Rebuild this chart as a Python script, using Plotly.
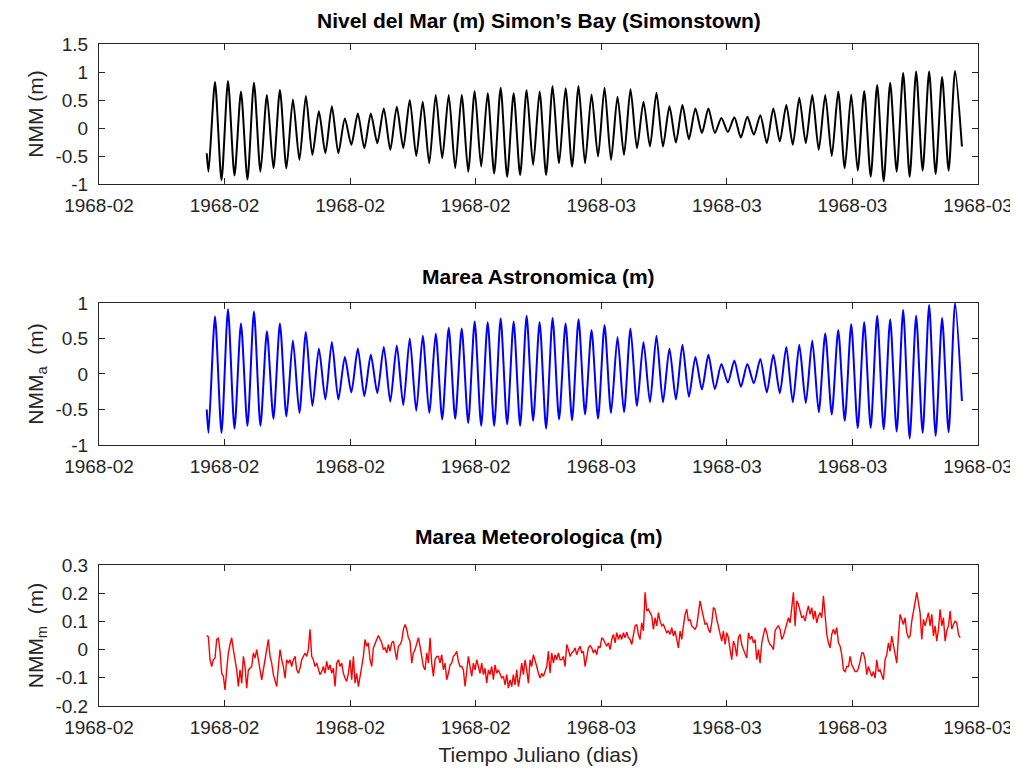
import numpy as np
import pandas as pd
import plotly.graph_objects as go

# ---------------- data ----------------
origin = pd.Timestamp("1968-02-10")
x_range = ["1968-02-10", "1968-03-16"]

# Sea level (m): successive high waters and the low water preceding each
nivel_high = [0.82, 0.84, 0.65, 0.81, 0.59, 0.68, 0.51, 0.57, 0.30, 0.39,
              0.17, 0.26, 0.26, 0.35, 0.38, 0.50, 0.47, 0.59, 0.59, 0.59,
              0.66, 0.62, 0.72, 0.62, 0.68, 0.65, 0.75, 0.71, 0.75, 0.60,
              0.72, 0.56, 0.69, 0.47, 0.63,
              0.39, 0.41, 0.35, 0.35, 0.18, 0.19, 0.20, 0.23, 0.35, 0.41,
              0.54, 0.59, 0.59, 0.65, 0.60, 0.66, 0.77, 0.81, 0.98, 1.01,
              1.01, 0.91, 1.02]
nivel_low = [-0.78, -0.93, -0.85, -0.92, -0.78, -0.72, -0.72, -0.57, -0.48, -0.45,
             -0.45, -0.30, -0.36, -0.27, -0.39, -0.36, -0.50, -0.63, -0.54, -0.72,
             -0.78, -0.69, -0.81, -0.87, -0.84, -0.66, -0.84, -0.63, -0.69, -0.63,
             -0.51, -0.57, -0.48, -0.36, -0.33,
             -0.33, -0.26, -0.20, -0.09, -0.09, -0.07, -0.17, -0.12, -0.27, -0.24,
             -0.30, -0.27, -0.39, -0.50, -0.72, -0.76, -0.87, -0.95, -0.78, -0.87,
             -0.76, -0.82, -0.76]
nivel_first, nivel_last = -0.45, -0.33

# Astronomical tide (m)
astro_high = [0.81, 0.91, 0.71, 0.88, 0.60, 0.71, 0.47, 0.59, 0.36, 0.45,
              0.24, 0.36, 0.27, 0.38, 0.40, 0.50, 0.54, 0.57, 0.65, 0.64,
              0.74, 0.73, 0.78, 0.74, 0.82, 0.73, 0.79, 0.71, 0.77, 0.62,
              0.69, 0.52, 0.64, 0.45, 0.54,
              0.36, 0.41, 0.24, 0.27, 0.14, 0.19, 0.14, 0.21, 0.27, 0.38,
              0.41, 0.47, 0.57, 0.62, 0.70, 0.73, 0.82, 0.77, 0.90, 0.82,
              0.97, 0.79, 1.00]
astro_low = [-0.83, -0.83, -0.77, -0.73, -0.73, -0.63, -0.60, -0.55, -0.45, -0.36,
             -0.36, -0.26, -0.31, -0.27, -0.39, -0.44, -0.52, -0.55, -0.64, -0.63,
             -0.69, -0.73, -0.73, -0.71, -0.73, -0.66, -0.77, -0.64, -0.65, -0.57,
             -0.63, -0.55, -0.54, -0.45, -0.40,
             -0.40, -0.36, -0.32, -0.22, -0.21, -0.12, -0.18, -0.13, -0.26, -0.27,
             -0.40, -0.41, -0.54, -0.57, -0.66, -0.76, -0.76, -0.78, -0.81, -0.91,
             -0.83, -0.87, -0.82]
astro_first, astro_last = -0.50, -0.38

# Meteorological tide (m), sampled about every 1.6 h
met_part1 = [0.050, 0.045, -0.036, -0.060, -0.036, -0.030, 0.036, 0.042, -0.006, -0.084,
             -0.095, -0.143, -0.072, -0.012, 0.018, 0.042, 0.000, -0.036, -0.072, -0.131,
             -0.072, -0.119, -0.024, -0.060, -0.137, -0.072, -0.066, -0.060, -0.012, -0.030,
             0.000, -0.042, -0.072, -0.107, -0.072, -0.036, -0.012, 0.036, -0.024, -0.048,
             -0.089, -0.107, -0.131, -0.060, 0.000, -0.036, -0.060, -0.101, -0.036, -0.048,
             -0.036, -0.060, -0.036, -0.024, -0.072, -0.084, -0.066, -0.036, -0.024, -0.012,
             -0.024, 0.000, 0.072, -0.024, -0.036, -0.060, -0.048, -0.066, -0.089, -0.078,
             -0.060, -0.084, -0.042, -0.072, -0.054, -0.084, -0.066, -0.131, -0.048, -0.036,
             -0.060, -0.048, -0.084, -0.101, -0.113, -0.084, -0.036, -0.107, -0.024, -0.119,
             -0.084, -0.131, -0.101, -0.060, -0.024, 0.036, 0.012, 0.024, -0.036, -0.060,
             0.006, 0.024, 0.036, 0.050, 0.036, 0.024, 0.000, 0.006, -0.012, 0.018,
             -0.006, 0.024, 0.030, -0.006, -0.036, 0.012, 0.018, 0.030, 0.072, 0.089,
             0.072, 0.042, 0.030, -0.048, -0.012, 0.000, 0.018, 0.042, 0.012, -0.024,
             -0.060, -0.072, -0.012, -0.048, 0.042, -0.048, -0.095, -0.036, -0.024, -0.024,
             -0.048, -0.018, -0.072, -0.048, -0.107, -0.084, -0.054, -0.048, -0.024, -0.018,
             -0.006, -0.042, -0.060]
met_part2 = [-0.060, -0.072, -0.131, -0.084, -0.024, -0.060, -0.095, -0.048, -0.072, -0.036,
             -0.060, -0.084, -0.048, -0.089, -0.066, -0.119, -0.072, -0.089, -0.060, -0.107,
             -0.054, -0.084, -0.072, -0.089, -0.101, -0.095, -0.125, -0.089, -0.137, -0.107,
             -0.131, -0.089, -0.125, -0.072, -0.131, -0.095, -0.048, -0.089, -0.036, -0.072,
             -0.119, -0.036, -0.060, -0.018, -0.036, -0.060, -0.084, -0.101, -0.084, -0.095,
             -0.078, -0.060, -0.006, -0.084, -0.012, -0.048, -0.018, -0.036, -0.012, -0.036,
             -0.036, -0.024, -0.060, 0.018, 0.000, -0.024, -0.012, -0.006, 0.006, -0.018,
             0.000, 0.012, -0.012, -0.006, -0.060, -0.024, 0.006, 0.014, 0.006, -0.012,
             0.000, -0.018, 0.012, 0.006, 0.042, 0.036, 0.024, 0.012, 0.024, 0.000,
             0.036, 0.054, 0.024, 0.060, 0.036, 0.054, 0.036, 0.060, 0.042, 0.062,
             0.042, 0.036, 0.018, 0.054, 0.084, 0.089, 0.054, 0.036, 0.095, 0.066,
             0.203, 0.137, 0.143, 0.131, 0.119, 0.072, 0.113, 0.084, 0.131, 0.101,
             0.084, 0.089, 0.072, 0.060, 0.066, 0.054, 0.078, 0.048, 0.066, 0.036,
             0.006, 0.066, 0.036, 0.084, 0.125, 0.143, 0.101, 0.107, 0.084, 0.078,
             0.072, 0.084, 0.125, 0.173, 0.143, 0.119, 0.089, 0.095, 0.072, 0.060,
             0.095, 0.149, 0.143]
met_part3 = [0.107, 0.084, 0.060, 0.030, 0.066, 0.018, 0.060, 0.042, 0.000, -0.036,
             0.030, 0.012, -0.024, 0.042, 0.054, 0.018, 0.000, -0.018, -0.030, 0.060,
             0.036, 0.048, 0.024, 0.036, -0.036, 0.000, -0.048, 0.024, 0.048, 0.078,
             0.060, 0.030, 0.018, 0.012, 0.000, 0.066, 0.078, 0.084, 0.072, 0.036,
             0.048, 0.072, 0.089, 0.113, 0.095, 0.161, 0.203, 0.084, 0.173, 0.161,
             0.137, 0.113, 0.119, 0.101, 0.131, 0.155, 0.125, 0.149, 0.107, 0.137,
             0.095, 0.119, 0.131, 0.113, 0.191, 0.119, 0.054, 0.024, 0.006, 0.054,
             0.072, 0.054, 0.078, 0.024, 0.012, -0.018, -0.072, -0.078, -0.060, -0.060,
             -0.024, -0.054, -0.066, -0.078, -0.078, -0.066, -0.042, -0.012, -0.012, -0.036,
             -0.089, -0.060, -0.078, -0.095, -0.078, -0.101, -0.036, -0.078, -0.072, -0.089,
             -0.107, -0.036, -0.018, 0.024, -0.006, 0.048, 0.018, -0.012, -0.048, 0.048,
             0.125, 0.107, 0.089, 0.113, 0.060, 0.042, 0.048, 0.101, 0.137, 0.173,
             0.203, 0.167, 0.131, 0.036, 0.107, 0.084, 0.113, 0.131, 0.084, 0.125,
             0.048, 0.084, 0.030, 0.072, 0.143, 0.084, 0.113, 0.030, 0.066, 0.084,
             0.137, 0.072, 0.089, 0.101, 0.095, 0.054, 0.042]

# time sampling (days after origin)
tide_first_high_day = 4.619
tide_period_days = 0.517
tide_start_day = 4.29
tide_end_day = 34.36
met_start_day = 4.288
met_step_days = 0.06637

# tick labels on the y axes
y1_ticks = [-1, -0.5, 0, 0.5, 1, 1.5]
y2_ticks = [-1, -0.5, 0, 0.5, 1]
y3_ticks = [-0.2, -0.1, 0, 0.1, 0.2, 0.3]


# ---------------- build series ----------------
def to_dates(days):
    return list(origin + pd.to_timedelta(np.asarray(days, dtype=float), unit="D"))


def tide_series(highs, lows, first, last):
    days, vals = [tide_start_day], [first]
    for k, (h, l) in enumerate(zip(highs, lows)):
        th = tide_first_high_day + k * tide_period_days
        days += [th - tide_period_days / 2, th]
        vals += [l, h]
    days.append(tide_end_day)
    vals.append(last)
    return to_dates(days), vals


nivel_x, nivel_y = tide_series(nivel_high, nivel_low, nivel_first, nivel_last)
astro_x, astro_y = tide_series(astro_high, astro_low, astro_first, astro_last)
met_y = met_part1 + met_part2 + met_part3
met_x = to_dates(met_start_day + met_step_days * np.arange(len(met_y)))

# ---------------- figure ----------------
FONT = "Liberation Sans, Arial, Helvetica, sans-serif"
AX = "#262626"

fig = go.Figure()
fig.add_trace(go.Scatter(x=nivel_x, y=nivel_y, mode="lines", xaxis="x", yaxis="y",
                         line=dict(color="#000000", width=2, shape="spline", smoothing=0.7)))
fig.add_trace(go.Scatter(x=astro_x, y=astro_y, mode="lines", xaxis="x2", yaxis="y2",
                         line=dict(color="#0000ff", width=2, shape="spline", smoothing=0.7)))
fig.add_trace(go.Scatter(x=met_x, y=met_y, mode="lines", xaxis="x3", yaxis="y3",
                         line=dict(color="#ff0000", width=1.4)))


def xaxis(anchor, title=None):
    d = dict(domain=[0, 1], anchor=anchor, type="date", range=x_range,
             tick0=x_range[0], dtick=5 * 86400000, tickformat="%Y-%m",
             showline=True, linecolor=AX, linewidth=1, mirror="ticks",
             ticks="inside", ticklen=6, tickcolor=AX, tickwidth=1.2,
             showgrid=False, zeroline=False, automargin=False,
             tickfont=dict(family=FONT, size=19, color=AX), ticklabelstandoff=4)
    if title:
        d["title"] = dict(text=title, font=dict(family=FONT, size=21, color=AX), standoff=10)
    return d


def yaxis(anchor, domain, rng, ticks, title):
    return dict(domain=domain, anchor=anchor, range=rng,
                tickmode="array", tickvals=ticks, ticktext=[f"{v:g}" for v in ticks],
                showline=True, linecolor=AX, linewidth=1, mirror="ticks",
                ticks="inside", ticklen=6, tickcolor=AX, tickwidth=1.2,
                showgrid=False, zeroline=False, automargin=False,
                tickfont=dict(family=FONT, size=19, color=AX), ticklabelstandoff=6,
                title=dict(text=title, font=dict(family=FONT, size=21, color=AX), standoff=6))


# the page body adds an 8 px margin on each side; size the figure so the page does not scroll
fig.update_layout(
    width=1010, height=758,
    margin=dict(l=91, r=40, t=36, b=60),
    paper_bgcolor="white", plot_bgcolor="white",
    showlegend=False,
    xaxis=xaxis("y"),
    xaxis2=xaxis("y2"),
    xaxis3=xaxis("y3", "Tiempo Juliano (dias)"),
    yaxis=yaxis("x", [0.7885, 1.0], [-1, 1.5], y1_ticks, "NMM (m)"),
    yaxis2=yaxis("x2", [0.3943, 0.6088], [-1, 1], y2_ticks, "NMM<sub>a</sub>  (m)"),
    yaxis3=yaxis("x3", [0.0, 0.2130], [-0.2, 0.3], y3_ticks, "NMM<sub>m</sub>  (m)"),
)

titles = [("Nivel del Mar (m) Simon’s Bay (Simonstown)", "y domain", 24),
          ("Marea Astronomica (m)", "y2 domain", 26),
          ("Marea Meteorologica (m)", "y3 domain", 28)]
for text, yref, shift in titles:
    fig.add_annotation(text=f"<b>{text}</b>", xref="paper", x=0.5, yref=yref, y=1,
                       yshift=shift, yanchor="middle", xanchor="center", showarrow=False,
                       font=dict(family=FONT, size=21, color="#000000"))

fig.write_html("out.html")
